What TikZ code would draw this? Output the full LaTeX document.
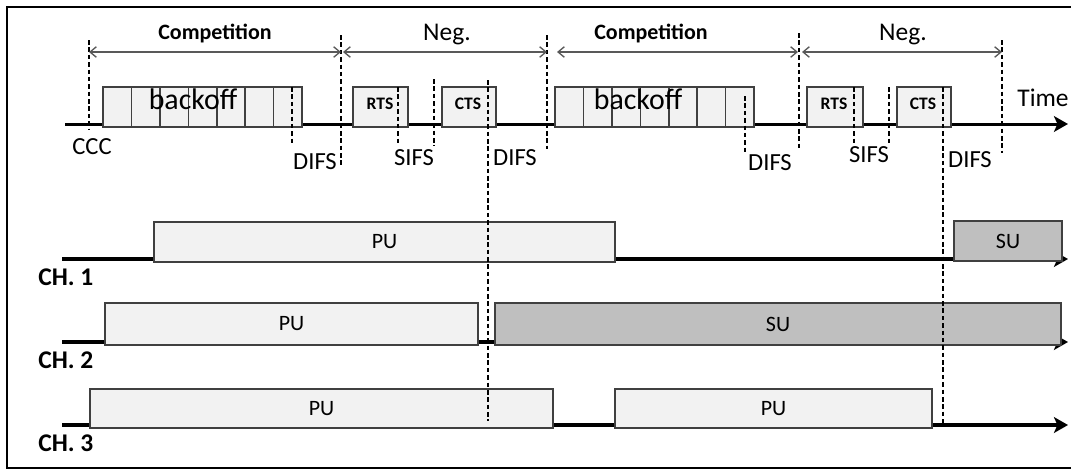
\documentclass[tikz,border=0pt]{standalone}
\usepackage{fontspec}
\setmainfont{Carlito}
\usetikzlibrary{arrows.meta}
\definecolor{boxgray}{HTML}{F2F2F2}
\definecolor{sugray}{HTML}{BFBFBF}
\definecolor{edgegray}{HTML}{404040}
\definecolor{spangray}{HTML}{595959}
\tikzset{
	pubox/.style={draw=edgegray,line width=0.9pt,fill=boxgray,inner sep=0pt,outer sep=0pt,anchor=south west},
	subox/.style={pubox,fill=sugray},
	slot/.style={pubox,minimum width=28.43*0.02cm,minimum height=40*0.02cm},
	tick/.style={line width=0.75pt,dash pattern=on 2.6pt off 1.6pt},
	span/.style={draw=spangray,line width=0.75pt,{Straight Barb[length=3.6pt,width=6pt]}-{Straight Barb[length=3.6pt,width=6pt]}},
	chan/.style={line width=2.2pt,-{Stealth[length=8pt,width=9pt,inset=2pt]}},
	gap/.style={font=\fontsize{14}{16}\selectfont},
	ttl/.style={font=\fontsize{12.5}{14}\selectfont\bfseries},
	neg/.style={font=\fontsize{14.5}{16}\selectfont},
	chlab/.style={font=\fontsize{14.5}{16}\selectfont\bfseries,anchor=west,inner sep=0pt},
	frame/.style={font=\fontsize{10}{12}\selectfont\bfseries},
}
\newcommand{\tbox}[7]{\node[#1,minimum width={((#4)-(#3))*0.02cm},minimum height={((#6)-(#5))*0.02cm},font=\fontsize{12.5}{14}\selectfont] (#2) at (#3,#6) {#7};}
\begin{document}
\begin{tikzpicture}[x=0.02cm,y=-0.02cm]
	\useasboundingbox (0,0) rectangle (1071,471);
	\draw[line width=0.8pt] (1071,7) -- (7,7) -- (7,468) -- (1071,468);

	\coordinate (t0) at (65,124);
	\coordinate (t1) at (1068,124);
	\draw[line width=1.7pt,-{Stealth[length=8pt,width=9pt,inset=2pt]}] (t0) -- (t1);
	\node[font=\fontsize{14.5}{16}\selectfont] (time) at (1043,98) {Time};

	\foreach \i in {0,...,6}
		\node[slot] (bka\i) at ({103+28.43*\i},127) {};
	\foreach \i in {0,...,6}
		\node[slot] (bkb\i) at ({555+28.43*\i},127) {};
	\node[font=\fontsize{17}{19}\selectfont] (bko1) at (193,99) {backoff};
	\node[font=\fontsize{17}{19}\selectfont] (bko2) at (638,99) {backoff};

	\tbox{pubox}{rts1}{353}{408}{87}{127}{}
	\tbox{pubox}{cts1}{442}{496}{87}{127}{}
	\tbox{pubox}{rts2}{807}{863}{87}{127}{}
	\tbox{pubox}{cts2}{897}{951}{87}{127}{}
	\node[frame] (rtsl1) at (380,104) {RTS};
	\node[frame] (ctsl1) at (468,104) {CTS};
	\node[frame] (rtsl2) at (834,104) {RTS};
	\node[frame] (ctsl2) at (923,104) {CTS};

	\coordinate (c1s) at (62,259);
	\coordinate (c1e) at (1068,259);
	\coordinate (c2s) at (62,342);
	\coordinate (c2e) at (1068,342);
	\coordinate (c3s) at (62,425);
	\coordinate (c3e) at (1068,425);
	\draw[chan] (c1s) -- (c1e);
	\draw[chan] (c2s) -- (c2e);
	\draw[chan] (c3s) -- (c3e);

	\tbox{pubox}{pu1}{154}{615}{222}{262}{PU}
	\tbox{subox}{su1}{954}{1062}{221}{261}{SU}
	\tbox{pubox}{pu2}{105}{478}{303}{345}{PU}
	\tbox{subox}{su2}{495}{1061}{303}{345}{SU}
	\tbox{pubox}{pu3}{90}{553}{389}{428}{PU}
	\tbox{pubox}{pu4}{615}{932}{389}{428}{PU}

	\node[chlab] (ch1) at (38,277) {CH. 1};
	\node[chlab] (ch2) at (38,360) {CH. 2};
	\node[chlab] (ch3) at (38,443) {CH. 3};

	\foreach \x/\ya/\yb [count=\k] in {89/40/129,292/87/145,341/35/165,398/87/146,434/79/146,488/80/421,547/35/149,745/96/153,799/33/149,854/87/146,889/87/146,943/87/425,1002/40/153}{
		\coordinate (ta\k) at (\x,\ya);
		\coordinate (tb\k) at (\x,\yb);
		\draw[tick] (ta\k) -- (tb\k);
	}

	\coordinate (s1) at (89,52);
	\coordinate (s2) at (341,52);
	\coordinate (s3) at (343,52);
	\coordinate (s4) at (547,52);
	\coordinate (s5) at (557,52);
	\coordinate (s6) at (798,52);
	\coordinate (s7) at (802,52);
	\coordinate (s8) at (1002,52);
	\draw[span] (s1) -- (s2);
	\draw[span] (s3) -- (s4);
	\draw[span] (s5) -- (s6);
	\draw[span] (s7) -- (s8);
	\node[ttl] (comp1) at (215,33) {Competition};
	\node[neg] (neg1) at (447,35) {Neg.};
	\node[ttl] (comp2) at (651,33) {Competition};
	\node[neg] (neg2) at (903,35) {Neg.};

	\node[gap] (ccc) at (92,147) {CCC};
	\node[gap] (difs1) at (315,162) {DIFS};
	\node[gap] (sifs1) at (414,158) {SIFS};
	\node[gap] (difs2) at (515,158) {DIFS};
	\node[gap] (difs3) at (770,163) {DIFS};
	\node[gap] (sifs2) at (869,155) {SIFS};
	\node[gap] (difs4) at (970,160) {DIFS};
\end{tikzpicture}
\end{document}
